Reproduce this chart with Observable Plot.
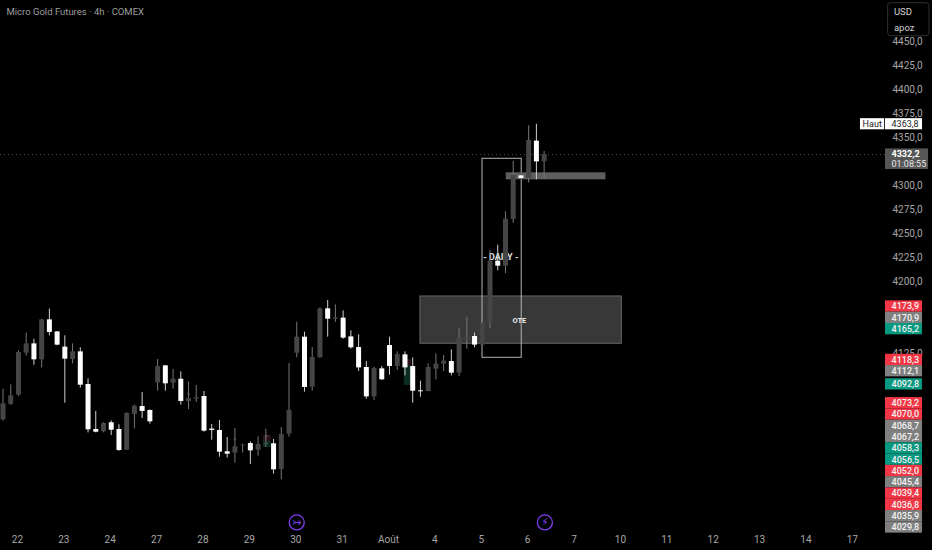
<!DOCTYPE html>
<html><head><meta charset="utf-8">
<script src="https://cdn.jsdelivr.net/npm/d3@7"></script>
<script src="https://cdn.jsdelivr.net/npm/@observablehq/plot@0.6"></script>
<style>html,body{margin:0;padding:0;background:#000;overflow:hidden}svg{display:block}</style>
</head><body><div id="chart"></div>
<script>
const opens = [4055.9,4071.9,4081.6,4125.3,4135.0,4118.4,4160.0,4147.5,4131.6,4118.7,4126.7,4092.7,4045.8,4043.4,4052.8,4045.8,4024.3,4061.4,4069.8,4065.6,4094.4,4112.1,4094.1,4098.2,4075.0,4077.4,4080.2,4046.2,4044.8,4022.6,4021.2,4028.8,4031.2,4024.3,4030.2,4030.9,4004.2,4041.0,4125.3,4142.0,4089.9,4120.5,4171.5,4160.7,4161.8,4142.3,4131.2,4110.4,4079.8,4109.0,4133.3,4111.4,4123.6,4111.4,4086.1,4085.4,4108.7,4113.9,4116.6,4104.5,4139.6,4142.7,4133.7,4155.9,4221.2,4216.0,4264.6,4310.0,4307.3,4346.2,4324.6];
const highs = [4087.8,4092.3,4127.8,4146.2,4139.9,4160.7,4171.2,4147.9,4143.4,4135.0,4130.9,4098.6,4064.6,4052.8,4054.8,4050.7,4063.2,4071.2,4084.4,4066.3,4118.7,4112.5,4108.3,4105.9,4095.5,4091.6,4085.4,4051.0,4055.2,4037.5,4046.9,4030.5,4033.0,4038.2,4046.2,4035.4,4047.9,4114.6,4157.6,4147.2,4131.2,4172.5,4180.2,4175.7,4169.4,4148.6,4144.4,4116.6,4110.7,4111.4,4142.0,4126.7,4126.7,4120.5,4096.2,4114.2,4124.6,4122.9,4128.8,4151.0,4162.8,4146.2,4156.6,4232.3,4237.8,4272.6,4325.3,4310.4,4362.1,4363.8,4335.4];
const lows = [4054.5,4070.8,4080.2,4122.2,4112.8,4110.0,4143.4,4133.0,4073.2,4114.2,4088.9,4042.3,4042.3,4042.3,4039.6,4023.2,4023.9,4046.5,4057.3,4051.4,4085.7,4085.7,4087.8,4071.2,4066.6,4073.9,4043.0,4034.7,4017.0,4016.0,4010.8,4021.2,4009.4,4018.0,4027.4,3999.3,3993.4,4037.8,4120.5,4084.7,4085.7,4120.1,4142.0,4157.3,4139.9,4129.5,4106.2,4077.4,4076.0,4096.9,4102.4,4107.3,4101.7,4073.2,4079.5,4085.1,4097.6,4106.2,4101.7,4101.0,4129.5,4130.9,4133.0,4151.0,4211.1,4208.3,4260.7,4306.9,4302.4,4305.9,4307.3];
const closes = [4072.6,4080.9,4126.0,4135.0,4118.4,4160.0,4146.9,4133.7,4119.1,4126.7,4092.0,4045.5,4043.0,4052.1,4045.1,4023.9,4062.5,4070.1,4064.6,4053.8,4111.4,4093.4,4098.2,4075.0,4078.1,4078.8,4044.1,4044.8,4022.2,4020.1,4027.8,4029.5,4023.6,4030.2,4031.6,4003.8,4040.6,4065.6,4142.0,4089.6,4120.8,4171.5,4160.7,4162.1,4141.0,4130.9,4110.0,4079.8,4109.4,4097.6,4111.4,4123.9,4110.0,4085.7,4085.1,4110.4,4113.9,4117.0,4104.5,4141.0,4142.0,4133.7,4156.6,4221.2,4216.0,4264.9,4310.4,4307.3,4346.9,4324.6,4332.2];

const dayTicks = [2,8,14,20,26,32,38,44,50,56,62,68,74,80,86,92,98,104,110];
const dayLabels = ["22","23","24","27","28","29","30","31","Août","4","5","6","7","10","11","12","13","14","17"];
const priceTicks = [4450,4425,4400,4375,4350,4300,4275,4250,4225,4200,4125];
const levelPrices = [4173.9,4170.9,4165.2,4118.3,4112.1,4092.8,4073.2,4070.0,4068.7,4067.2,4058.3,4056.5,4052.0,4045.4,4039.4,4036.8,4035.9,4029.8];
const levelKinds = ["r","g","t","r","g","t","r","r","g","g","t","t","r","g","r","r","g","g"];
const lastPrice = 4332.2, highPrice = 4363.8;
const sellBoxes = [{x1:33.7,x2:34.7,y1:4033.3,y2:4039.6},{x1:51.9,x2:52.85,y1:4111.5,y2:4118.75}];
const buyBoxes = [{x1:33.7,x2:34.7,y1:4027.1,y2:4033.3},{x1:51.9,x2:52.85,y1:4091.7,y2:4111.5}];
const carets = [{i:24,p:4081.3},{i:30,p:4034.4},{i:34.1,p:4037.5},{i:51.8,p:4115.6}];
const events = [{i:38,g:"\u21a3"},{i:70.1,g:"\u26a1"}];

const comma = v => v.toFixed(1).replace(".", ",");
const FONT = "Roboto, sans-serif";
const AXIS = "#a6a6a6";

const bars = opens.map((o,i)=>({i,o,h:highs[i],l:lows[i],c:closes[i],up:closes[i]>=o}));
const KIND = {r:"#f23645",g:"#808080",t:"#089981"};
const STEP = 11.77;
let prev = Infinity;
const levels = levelPrices.map((p,k)=>{
  const at = Math.min(p, prev-STEP); prev = at;
  return {p, at, fill:KIND[levelKinds[k]]};
});
const box = {x1:"x1",x2:"x2",y1:"y1",y2:"y2"};
const TAG_X = 114.94;

const plot = Plot.plot({
  width:932, height:550,
  marginLeft:0, marginRight:47, marginTop:0, marginBottom:20,
  style:{background:"#000",fontFamily:FONT,overflow:"visible"},
  x:{domain:[-0.323,114.16],axis:null},
  y:{domain:[3940.6,4492.7],axis:null},
  marks:[
    Plot.ruleY([lastPrice],{stroke:"#4a4a4a",strokeDasharray:"1,3",strokeWidth:1}),
    Plot.rect([{x1:54.0,x2:80.05,y1:4135.1,y2:4184.4}],{...box,fill:"#383838",stroke:"#666",strokeWidth:1}),
    Plot.rect([{x1:62.03,x2:67.1,y1:4120.5,y2:4327.8}],{...box,fill:"none",stroke:"#b5b5b5",strokeWidth:1}),
    Plot.rect([{x1:65.1,x2:78.0,y1:4305.9,y2:4313.2}],{...box,fill:"#5e5e5e"}),
    Plot.rect(sellBoxes,{...box,fill:"#2a1218"}),
    Plot.rect(buyBoxes,{...box,fill:"#0a2a22"}),
    Plot.text(carets,{x:"i",y:"p",text:()=>"\u2303",fill:"#666",fontSize:7,fontFamily:"DejaVu Sans"}),
    Plot.text(["- DAILY -"],{x:64.4,y:4225.3,text:d=>d,fill:"#e0e0e0",fontSize:9,fontWeight:"bold"}),
    Plot.text(["OTE"],{x:66.8,y:4159.7,text:d=>d,fill:"#eee",fontSize:7.5,fontWeight:"bold"}),
    Plot.ruleX(bars,{x:"i",y1:"l",y2:"h",stroke:d=>d.up?"#777":"#cfcfcf",strokeWidth:1}),
    Plot.ruleX(bars,{x:"i",y1:"o",y2:"c",stroke:d=>d.up?"#454545":"#fff",strokeWidth:5}),
    Plot.axisX({anchor:"bottom",ticks:dayTicks,tickSize:0,tickPadding:5,dx:-1,
      tickFormat:d=>dayLabels[dayTicks.indexOf(d)],fontSize:10,color:AXIS,fill:AXIS,label:null}),
    Plot.axisY({anchor:"right",ticks:priceTicks,tickSize:0,tickPadding:7,
      tickFormat:comma,fontSize:10,fill:AXIS,label:null}),
    Plot.dot(events,{x:"i",y:3949,r:7.5,stroke:"#7e3ff2",strokeWidth:1.3,fill:"#000"}),
    Plot.text(events,{x:"i",y:3949,text:"g",fill:"#7e3ff2",fontSize:11,fontFamily:"DejaVu Sans"}),
    // level tags on the price scale
    Plot.rect(levels,{x1:114.16,x2:118.95,y1:d=>d.at-STEP/2,y2:d=>d.at+STEP/2,fill:"fill"}),
    Plot.text(levels,{x:TAG_X,y:"at",text:d=>comma(d.p),fill:"#f2f2f2",fontSize:9,fontWeight:500,textAnchor:"start"}),
    // last price tag
    Plot.rect([0],{x1:114.16,x2:119.73,y1:lastPrice-15.6,y2:lastPrice+5.9,fill:"#555"}),
    Plot.text([lastPrice],{x:TAG_X,y:d=>d,text:comma,fill:"#fff",fontSize:9,fontWeight:"bold",textAnchor:"start"}),
    Plot.text(["01:08:55"],{x:TAG_X,y:lastPrice-10,text:d=>d,fill:"#e8e8e8",fontSize:9,textAnchor:"start"}),
    // session high tag
    Plot.rect([0],{x1:114.16,x2:118.95,y1:highPrice-5.8,y2:highPrice+5.8,fill:"#fff"}),
    Plot.rect([0],{x1:110.92,x2:114.05,y1:highPrice-5.8,y2:highPrice+5.8,fill:"#fff"}),
    Plot.text([highPrice],{x:TAG_X,y:d=>d,text:comma,fill:"#222",fontSize:9,textAnchor:"start"}),
    Plot.text(["Haut"],{x:111.2,y:highPrice,text:d=>d,fill:"#222",fontSize:9,textAnchor:"start"}),
    // title and currency box
    Plot.text(["Micro Gold Futures · 4h · COMEX"],{frameAnchor:"top-left",dx:6,dy:7.5,text:d=>d,fill:"#9c9c9c",fontSize:9.5,textAnchor:"start"}),
    Plot.rect([0],{x1:114.5,x2:119.85,y1:4455.5,y2:4489.9,fill:"#000",stroke:"#2e2e2e",rx:3}),
    Plot.text(["USD"],{x:115.25,y:4481,text:d=>d,fill:"#d0d0d0",fontSize:9.5,textAnchor:"start"}),
    Plot.text(["apoz"],{x:115.25,y:4464.4,text:d=>d,fill:"#d0d0d0",fontSize:9.5,textAnchor:"start"})
  ]
});
document.getElementById("chart").append(plot);
</script></body></html>
